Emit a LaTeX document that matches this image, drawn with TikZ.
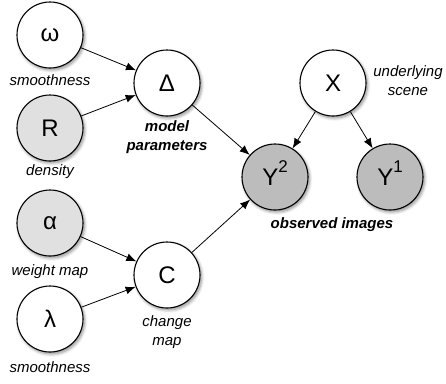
\documentclass[tikz,border=0pt]{standalone}
\usepackage{fontspec}
\setmainfont{Liberation Sans}
\usetikzlibrary{arrows.meta,shadows.blur}
\definecolor{lightfill}{RGB}{224,224,224}
\definecolor{obsfill}{RGB}{188,188,188}
\begin{document}
\begin{tikzpicture}[x=1pt,y=-1pt,
  var/.style={circle,draw=black,line width=1.1pt,minimum size=66pt,inner sep=0pt,fill=white,
    font=\fontsize{24}{28}\selectfont,
    blur shadow={shadow xshift=1.5pt,shadow yshift=-2pt,shadow blur steps=6,shadow blur radius=3pt,shadow opacity=45}},
  lightvar/.style={var,fill=lightfill},
  obsvar/.style={var,fill=obsfill},
  lab/.style={font=\fontsize{15}{19}\selectfont\itshape,align=center,inner sep=0pt},
  blab/.style={font=\fontsize{15}{19}\selectfont\bfseries\itshape,align=center,inner sep=0pt},
  edge/.style={-{Latex[length=10pt,width=8pt]},line width=0.8pt}
]
\useasboundingbox (0,0) rectangle (446,383);

\node[var] (w) at (50,35) {ω};
\node[lightvar] (R) at (50,128) {R};
\node[lightvar] (a) at (50,223) {α};
\node[var] (l) at (50,319) {λ};
\node[var] (D) at (167,83) {Δ};
\node[var] (C) at (167,275) {C};
\node[var] (X) at (333,83) {X};
\node[obsvar] (Y2) at (275,177) {Y\smash{\raisebox{13pt}{\fontsize{17}{17}\selectfont 2}}};
\node[obsvar] (Y1) at (390,177) {Y\smash{\raisebox{13pt}{\fontsize{17}{17}\selectfont 1}}};

\node[lab] (lw) at (50,80) {smoothness};
\node[lab] (lR) at (50,172) {density};
\node[lab] (la) at (50,272) {weight map};
\node[lab] (ll) at (50,367) {smoothness};
\node[blab] (lD) at (167,137.5) {model\\parameters};
\node[lab] (lC) at (167,332.5) {change\\map};
\node[lab] (lX) at (408,81) {underlying\\scene};
\node[blab] (lY) at (332,225) {observed images};

\draw[edge] (w) -- (D);
\draw[edge] (R) -- (D);
\draw[edge] (a) -- (C);
\draw[edge] (l) -- (C);
\draw[edge] (D) -- (Y2);
\draw[edge] (C) -- (Y2);
\draw[edge] (X) -- (Y2);
\draw[edge] (X) -- (Y1);
\end{tikzpicture}
\end{document}
